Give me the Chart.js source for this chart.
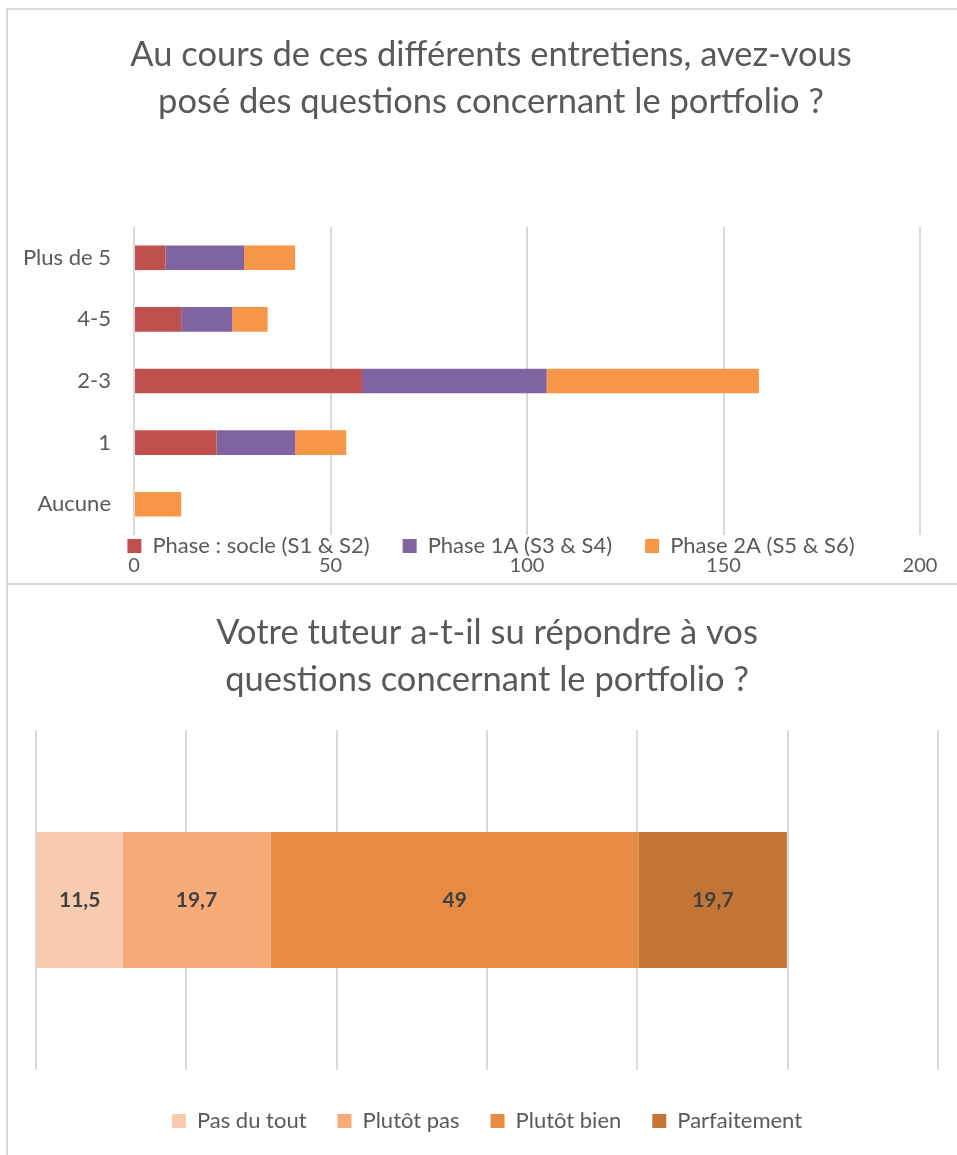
<!DOCTYPE html>
<html lang="fr">
<head>
<meta charset="utf-8">
<title>Portfolio - entretiens avec le tuteur</title>
<script src="https://cdn.jsdelivr.net/npm/chart.js@4.4.1/dist/chart.umd.min.js"></script>
<style>
  html, body { margin: 0; padding: 0; background: #fff; overflow: hidden; }
  #page { position: relative; width: 957px; height: 1155px; overflow: hidden; background: #fff; }
  .bloc { position: absolute; left: 0; }
  #haut { top: 0; width: 982px; height: 583px; }
  #bas { top: 585px; width: 957px; height: 577px; background: #fff; }
  .trait { position: absolute; background: #d9d9d9; }
</style>
</head>
<body>
<div id="page">
  <div class="bloc" id="haut"><canvas id="graphQuestions"></canvas></div>
  <div class="bloc" id="bas"><canvas id="graphTuteur"></canvas></div>
  <!-- cadres des deux graphiques -->
  <div class="trait" style="left:6px;top:8px;width:2px;height:1147px"></div>
  <div class="trait" style="left:6px;top:8px;width:951px;height:2px"></div>
  <div class="trait" style="left:6px;top:583px;width:951px;height:2px"></div>
</div>
<script>
var FONT = "Lato, 'Open Sans', sans-serif";
var GRIS = '#595959';
var GRILLE = '#d9d9d9';

// graphique 1 : nombre de questions posees, par phase
var nbQuestions = ['Plus de 5', '4-5', '2-3', '1', 'Aucune'];
var phases = ['Phase : socle (S1 & S2)', 'Phase 1A (S3 & S4)', 'Phase 2A (S5 & S6)'];
var socle = [8, 12, 58, 21, 0];
var phase1A = [20, 13, 47, 20, 0];
var phase2A = [13, 9, 54, 13, 12];
var graduationsQ = [0, 50, 100, 150, 200];
var couleursPhases = ['#c0504d', '#8064a2', '#f79646'];

// graphique 2 : le tuteur a-t-il su repondre (%)
var reponses = ['Pas du tout', 'Plutôt pas', 'Plutôt bien', 'Parfaitement'];
var pourcentages = [11.5, 19.7, 49, 19.7];
var graduationsT = [0, 20, 40, 60, 80, 100, 120];
var couleursReponses = ['#f8cbb1', '#f6ab79', '#e68b41', '#c27534'];

Chart.defaults.font.family = FONT;
Chart.defaults.color = GRIS;

function fixerGraduations(valeurs) {
  return function(scale) {
    scale.ticks = valeurs.map(function(v) { return { value: v }; });
  };
}

// etiquettes de valeur au centre de chaque segment
var etiquettes = {
  id: 'etiquettes',
  afterDatasetsDraw: function(chart) {
    var ctx = chart.ctx;
    ctx.save();
    ctx.font = 'bold 21px ' + FONT;
    ctx.fillStyle = '#404040';
    ctx.textAlign = 'center';
    ctx.textBaseline = 'middle';
    chart.data.datasets.forEach(function(ds, i) {
      chart.getDatasetMeta(i).data.forEach(function(barre, j) {
        var p = barre.getCenterPoint();
        ctx.fillText(String(ds.data[j]).replace('.', ','), p.x, p.y);
      });
    });
    ctx.restore();
  }
};

var seriesQ = [socle, phase1A, phase2A];

new Chart(document.getElementById('graphQuestions'), {
  type: 'bar',
  data: {
    labels: nbQuestions,
    datasets: phases.map(function(nom, i) {
      return { label: nom, data: seriesQ[i], backgroundColor: couleursPhases[i], borderWidth: 0, yAxisID: 'y' };
    })
  },
  options: {
    indexAxis: 'y',
    responsive: true,
    maintainAspectRatio: false,
    animation: false,
    layout: { padding: { left: 0, right: 0, top: 0, bottom: 0 } },
    datasets: { bar: { barPercentage: 0.4, categoryPercentage: 1 } },
    scales: {
      x: {
        stacked: true, min: 0, max: 200, weight: 1,
        border: { display: false },
        grid: { color: GRILLE, lineWidth: 2, drawTicks: false },
        // graduations sous la legende
        ticks: { mirror: true, padding: -9, font: { size: 20, lineHeight: 1 } },
        afterBuildTicks: fixerGraduations(graduationsQ),
        afterFit: function(scale) { scale.height = 16; }
      },
      y: {
        stacked: true,
        border: { display: false },
        grid: { display: false, drawTicks: false },
        ticks: { padding: 23, font: { size: 22 } },
        afterFit: function(scale) { scale.width = 134; }
      },
      // marge droite du cadre (axe vide)
      marge: {
        type: 'category', position: 'right',
        border: { display: false },
        grid: { display: false, drawTicks: false },
        ticks: { display: false },
        afterFit: function(scale) { scale.width = 62; }
      }
    },
    plugins: {
      title: {
        display: true,
        text: ['Au cours de ces différents entretiens, avez-vous', 'posé des questions concernant le portfolio ?'],
        color: GRIS,
        font: { size: 34.5, weight: 'normal', lineHeight: 47 / 34.5 },
        padding: { top: 31.5, bottom: 101.5 }
      },
      legend: {
        position: 'bottom',
        weight: 0,
        labels: {
          boxWidth: 14, boxHeight: 14, padding: 0,
          font: { size: 22 },
          generateLabels: function(chart) {
            var items = Chart.defaults.plugins.legend.labels.generateLabels(chart);
            items.forEach(function(it, i) {
              if (i < items.length - 1) it.text = it.text + '\u2003\u2003';
            });
            return items;
          }
        }
      },
      tooltip: { enabled: false }
    }
  }
});

new Chart(document.getElementById('graphTuteur'), {
  type: 'bar',
  data: {
    labels: [''],
    datasets: reponses.map(function(nom, i) {
      return { label: nom, data: [pourcentages[i]], backgroundColor: couleursReponses[i], borderWidth: 0 };
    })
  },
  options: {
    indexAxis: 'y',
    responsive: true,
    maintainAspectRatio: false,
    animation: false,
    layout: { padding: { left: 36, right: 19, top: 0, bottom: 20 } },
    datasets: { bar: { barPercentage: 0.4, categoryPercentage: 1 } },
    scales: {
      x: {
        stacked: true, min: 0, max: 120,
        border: { display: false },
        grid: { color: GRILLE, lineWidth: 2, drawTicks: false },
        ticks: { display: false },
        afterBuildTicks: fixerGraduations(graduationsT),
        afterFit: function(scale) { scale.height = 9; }
      },
      y: { stacked: true, display: false }
    },
    plugins: {
      title: {
        display: true,
        text: ['Votre tuteur a-t-il su répondre à vos', 'questions concernant le portfolio ?'],
        color: GRIS,
        font: { size: 34.5, weight: 'normal', lineHeight: 47 / 34.5 },
        padding: { top: 24.5, bottom: 26.5 }
      },
      legend: {
        position: 'bottom',
        labels: { boxWidth: 14, boxHeight: 14, padding: 31, font: { size: 22 } }
      },
      tooltip: { enabled: false }
    }
  },
  plugins: [etiquettes]
});
</script>
</body>
</html>
